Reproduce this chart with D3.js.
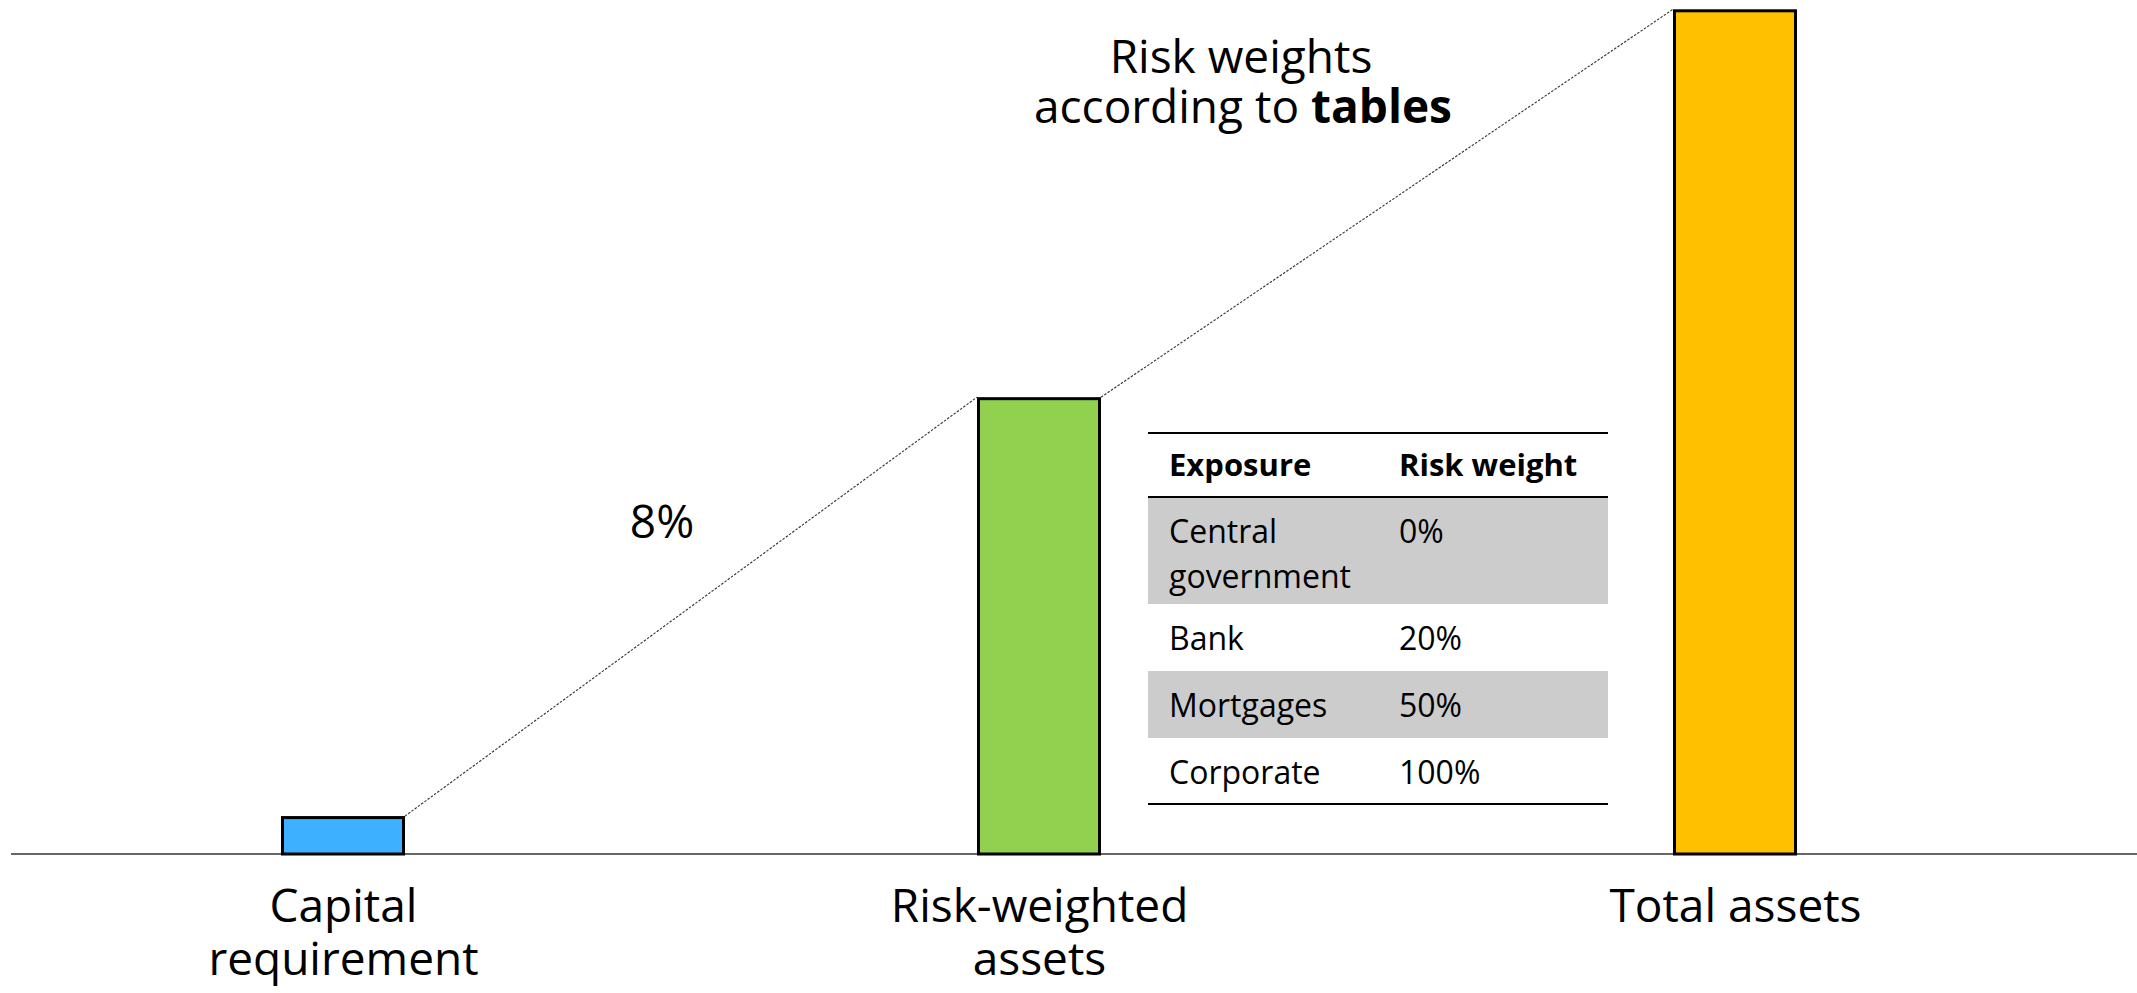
<!DOCTYPE html>
<html>
<head>
<meta charset="utf-8">
<script src="https://cdn.jsdelivr.net/npm/d3@7"></script>
<style>
  html, body { margin: 0; padding: 0; background: #ffffff; }
  svg { display: block; font-family: "Open Sans", Lato, sans-serif; }
</style>
</head>
<body>
<svg id="chart" width="2137" height="993"></svg>
<script>
// Bar categories (line breaks mark where each label wraps)
const categories = ["Capital\nrequirement", "Risk-weighted\nassets", "Total assets"];
// Relative sizes: total assets = 100
const values = [4.32, 54, 100];
const barColors = ["#3DB1FF", "#92D050", "#FFC000"];

// Link annotations
const ratioLabel = "8%";
const weightNote = ["Risk weights", "according to "];
const weightNoteBold = "tables";

// Risk-weight table
const tableHeader = ["Exposure", "Risk weight"];
const exposures = [["Central", "government"], ["Bank"], ["Mortgages"], ["Corporate"]];
const riskWeights = ["0%", "20%", "50%", "100%"];

const W = 2137, H = 993;
const svg = d3.select("#chart");
const baseY = 854;
const bigFont = "46px";
const tableFont = "32px";
const headFont = "31px";

const x = d3.scalePoint().domain(categories).range([343, 1735]);
const y = d3.scaleLinear().domain([0, 100]).range([baseY, 10.8]);
const barW = 121;

// Baseline
svg.append("line")
  .attr("x1", 11).attr("x2", W)
  .attr("y1", baseY).attr("y2", baseY)
  .attr("stroke", "#333").attr("stroke-width", 1.6);

// Dotted connectors from the top of one bar to the next
const tops = categories.map((c, i) => ({ x: x(c), y: y(values[i]) }));
const links = d3.pairs(tops);
svg.selectAll("line.link").data(links).join("line")
  .attr("class", "link")
  .attr("x1", d => d[0].x + barW / 2 + 1.5)
  .attr("y1", d => d[0].y - 1.5)
  .attr("x2", d => d[1].x - barW / 2 - 1.5)
  .attr("y2", d => d[1].y - 1.5)
  .attr("stroke", "#333").attr("stroke-width", 1.1)
  .attr("stroke-dasharray", "2.5,1.5");

// Bars
svg.selectAll("rect.bar").data(categories).join("rect")
  .attr("class", "bar")
  .attr("x", d => x(d) - barW / 2)
  .attr("y", (d, i) => y(values[i]))
  .attr("width", barW)
  .attr("height", (d, i) => baseY - y(values[i]))
  .attr("fill", (d, i) => barColors[i])
  .attr("stroke", "#000").attr("stroke-width", 3);

// Category labels via a bottom axis
const axis = svg.append("g")
  .attr("transform", `translate(0,${baseY})`)
  .call(d3.axisBottom(x).tickSize(0));
axis.select(".domain").remove();
axis.selectAll(".tick text")
  .attr("y", 0).attr("dy", null)
  .attr("fill", "#000")
  .style("font-family", "'Open Sans', sans-serif")
  .style("font-size", bigFont)
  .text(null)
  .each(function(d) {
    const t = d3.select(this);
    d.split("\n").forEach((line, k) => {
      t.append("tspan").attr("x", 0).attr("y", 68 + k * 53).text(line);
    });
  });

// "8%" annotation on the first connector
svg.append("text")
  .attr("x", 662).attr("y", 538)
  .attr("text-anchor", "middle")
  .style("font-size", bigFont)
  .text(ratioLabel);

// Risk weight note on the second connector
const note = svg.append("text")
  .attr("text-anchor", "middle")
  .style("font-size", bigFont);
note.append("tspan").attr("x", 1241).attr("y", 73).text(weightNote[0]);
note.append("tspan").attr("x", 1243).attr("y", 123).text(weightNote[1]);
note.append("tspan").style("font-weight", "bold").text(weightNoteBold);

// Table
const tX0 = 1148, tX1 = 1608;
const colX = [1169, 1399];
const rowBounds = [497, 604, 671, 738, 804];
const tbl = svg.append("g").style("font-size", tableFont);

tbl.selectAll("rect.row").data(exposures).join("rect")
  .attr("class", "row")
  .attr("x", tX0).attr("width", tX1 - tX0)
  .attr("y", (d, i) => rowBounds[i])
  .attr("height", (d, i) => rowBounds[i + 1] - rowBounds[i])
  .attr("fill", (d, i) => i % 2 === 0 ? "#CCCCCC" : "none");

tbl.selectAll("text.head").data(tableHeader).join("text")
  .attr("class", "head")
  .attr("x", (d, i) => colX[i]).attr("y", 476)
  .style("font-weight", "bold")
  .style("font-size", headFont)
  .text(d => d);

tbl.selectAll("text.exp").data(exposures).join("text")
  .attr("class", "exp")
  .attr("x", colX[0])
  .each(function(d, i) {
    const t = d3.select(this);
    d.forEach((line, k) => {
      t.append("tspan").attr("x", colX[0]).attr("y", rowBounds[i] + 45.5 + k * 45).text(line);
    });
  });

tbl.selectAll("text.rw").data(riskWeights).join("text")
  .attr("class", "rw")
  .attr("x", colX[1])
  .attr("y", (d, i) => rowBounds[i] + 45.5)
  .text(d => d);

tbl.selectAll("line.rule").data([433, 497, 804]).join("line")
  .attr("class", "rule")
  .attr("x1", tX0).attr("x2", tX1)
  .attr("y1", d => d).attr("y2", d => d)
  .attr("stroke", "#000").attr("stroke-width", 2);
</script>
</body>
</html>
